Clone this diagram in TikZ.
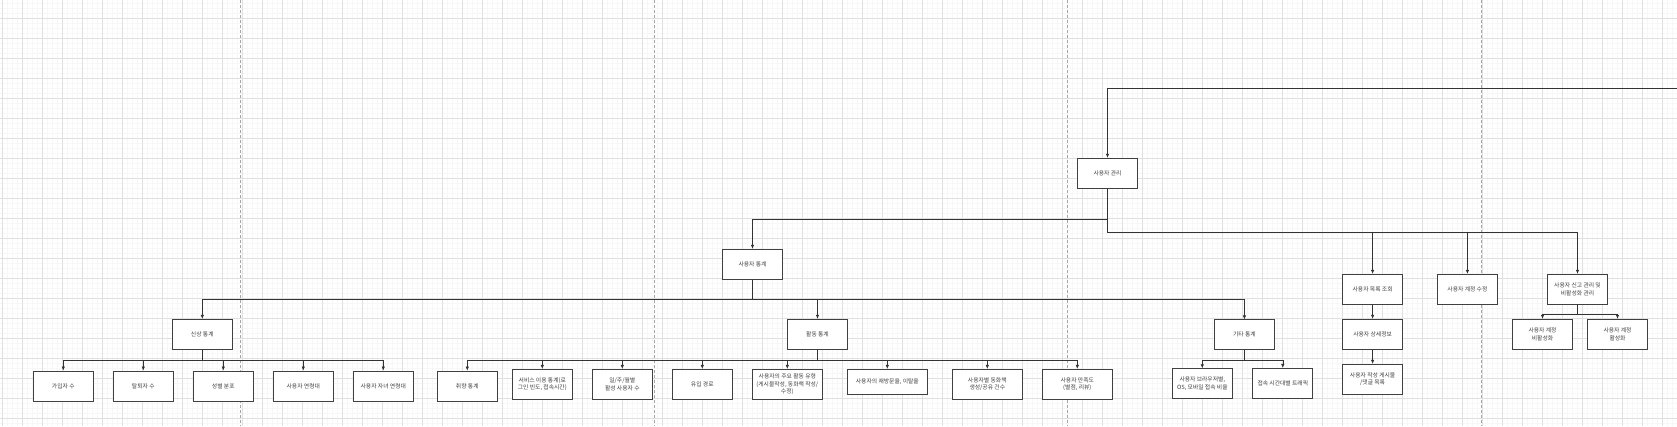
\documentclass[tikz,border=0pt]{standalone}
\usepackage{fontspec}
\newfontfamily\kr{Noto Sans CJK KR}
\usetikzlibrary{arrows.meta}

\tikzset{
  box/.style={draw=black!75, line width=0.8pt, fill=white, minimum width=60pt, minimum height=30pt,
    inner sep=1pt, align=center, text=black!75, font={\kr\fontsize{5.8}{7.4}\selectfont}},
  link/.style={draw=black!80, line width=0.6pt, -{Latex[length=4pt,width=3.4pt]}},
  minorgrid/.style={draw=black!3, line width=0.4pt},
  majorgrid/.style={draw=black!12, line width=0.5pt},
  pagebreak/.style={draw=black!35, line width=0.6pt, dash pattern=on 3pt off 2pt}
}

\begin{document}
\begin{tikzpicture}[x=1pt,y=-1pt]
\useasboundingbox (0,0) rectangle (1677,426);
\fill[white] (0,0) rectangle (1677,426);

% ===== Grid =====
\foreach \i in {0,...,335} {
    \draw[minorgrid] ({2.3+5*\i},0) -- ++(0,426);
}
\foreach \i in {0,...,84} {
    \draw[minorgrid] (0,{3.3+5*\i}) -- ++(1677,0);
}
\foreach \i in {0,...,83} {
    \draw[majorgrid] ({2.3+20*\i},0) -- ++(0,426);
}
\foreach \i in {0,...,20} {
    \draw[majorgrid] (0,{18.3+20*\i}) -- ++(1677,0);
}

% ===== Page breaks =====
\foreach \x in {240.7,653.8,1067.3,1481} {
    \draw[pagebreak] (\x,0) -- (\x,426);
}

% ===== Nodes =====
\node[box] (root) at (1107.5,173.3) {사용자 관리};

\node[box] (stat) at (752.5,264.3) {사용자 통계};

\node[box] (list) at (1372.6,289.3) {사용자 목록 조회};
\node[box] (edit) at (1467.4,289.3) {사용자 계정 수정};
\node[box] (report) at (1577.5,289.3) {사용자 신고 관리 및\\비활성화 관리};

\node[box] (detail) at (1372.6,334.3) {사용자 상세정보};
\node[box] (posts) at (1372.6,379.3) {사용자 작성 게시물\\/댓글 목록};

\node[box] (deact) at (1542.5,334.3) {사용자 계정\\비활성화};
\node[box] (act) at (1617.5,334.3) {사용자 계정\\활성화};

% 신상 / 활동 / 기타
\node[box] (personal) at (202.3,334.3) {신상 통계};
\node[box] (activity) at (817.5,334.3) {활동 통계};
\node[box] (etc) at (1244.4,334.8) {기타 통계};

% Row: 신상
\node[box] (join) at (63.3,386) {가입자 수};
\node[box] (quit) at (143.3,386) {탈퇴자 수};
\node[box] (gender) at (223.3,386) {성별 분포};
\node[box] (age) at (303.3,386) {사용자 연령대};
\node[box] (kidage) at (383.3,386) {사용자 자녀 연령대};

% Row: 활동
\node[box] (taste) at (467.3,386) {취향 통계};
\node[box] (usage) at (542.3,384.3) {서비스 이용 통계(로\\그인 빈도, 접속시간)};
\node[box] (dau) at (622.3,384.3) {일/주/월별\\활성 사용자 수};
\node[box] (inflow) at (702.3,384.3) {유입 경로};
\node[box, minimum width=70pt] (acttype) at (787.3,384.3) {사용자의 주요 활동 유형\\(게시물작성, 동화책 작성/\\수정)};
\node[box, minimum width=80pt, minimum height=25pt] (revisit) at (887.3,381.8) {사용자의 재방문율, 이탈율};
\node[box, minimum width=70pt] (books) at (987.3,384.3) {사용자별 동화책\\생성/공유 건수};
\node[box, minimum width=70pt] (satis) at (1077.3,384.3) {사용자 만족도\\(별점, 리뷰)};

% Row: 기타
\node[box] (browser) at (1202.3,383.7) {사용자 브라우저별,\\OS, 모바일 접속 비율};
\node[box] (traffic) at (1282.8,383.3) {접속 시간대별 트래픽};

% ===== Connectors =====
\coordinate (inlet) at (1677,88.3);
\draw[link] (inlet) -| (root.north);

\draw[link] (root.south) -- ++(0,30.7) -| (stat.north);
\foreach \n in {list,edit,report} {
    \draw[link] (root.south) -- ++(0,43.4) -| (\n.north);
}

\draw[link] (list.south) -- (detail.north);
\draw[link] (detail.south) -- (posts.north);

\foreach \n in {deact,act} {
    \draw[link] (report.south) -- ++(0,10) -| (\n.north);
}

\foreach \n in {personal,activity,etc} {
    \draw[link] (stat.south) -- ++(0,20) -| (\n.north);
}

\foreach \n in {join,quit,gender,age,kidage} {
    \draw[link] (personal.south) -- ++(0,10.7) -| (\n.north);
}

\foreach \n in {taste,usage,dau,inflow,acttype,revisit,books,satis} {
    \draw[link] (activity.south) -- ++(0,10.7) -| (\n.north);
}

\foreach \n in {browser,traffic} {
    \draw[link] (etc.south) -- ++(0,10) -| (\n.north);
}

\end{tikzpicture}
\end{document}
